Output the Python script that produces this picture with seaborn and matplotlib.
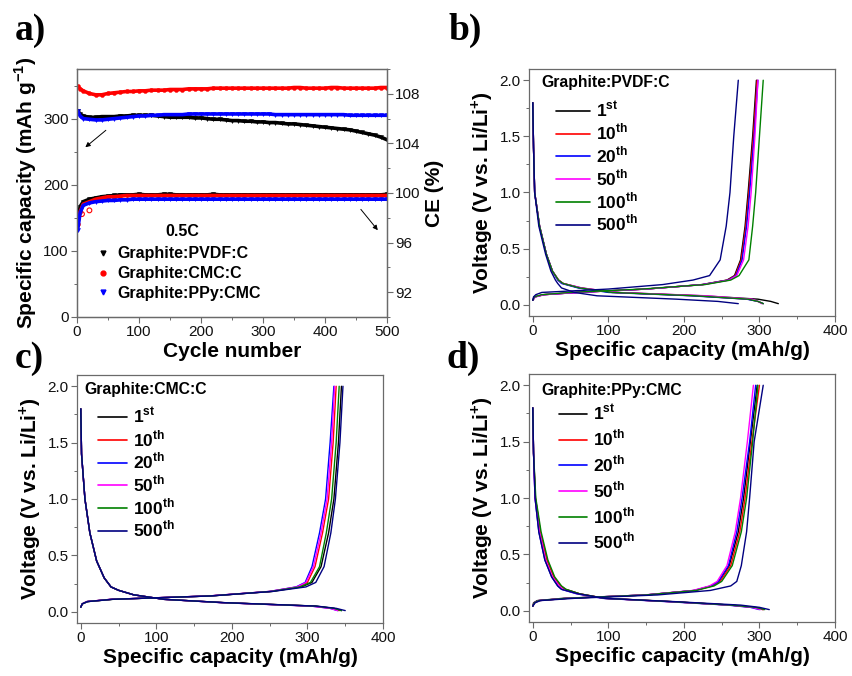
import matplotlib
matplotlib.use("Agg")
import matplotlib.pyplot as plt
from matplotlib.ticker import MultipleLocator, FixedLocator, FormatStrFormatter
from matplotlib.lines import Line2D
import pandas as pd
import seaborn as sns

# ---------------- panel a: cycling at 0.5C ----------------
cycles = [1, 5, 10, 20, 30, 40, 50, 60, 70, 80, 90, 100, 110, 120, 130, 140, 150,
          160, 170, 180, 190, 200, 210, 220, 230, 240, 250, 260, 270, 280, 290, 300,
          310, 320, 330, 340, 350, 360, 370, 380, 390, 400, 410, 420, 430, 440, 450,
          460, 470, 480, 490, 500]

pvdf_cap = [312, 307, 304, 302, 302, 303, 303, 303, 304, 304, 305, 305, 305, 305, 304, 303, 302,
            302, 302, 302, 301, 301, 300, 299, 299, 298, 297, 297, 296, 296, 295, 295,
            294, 294, 293, 292, 292, 291, 290, 289, 288, 287, 286, 285, 284, 283, 281,
            279, 277, 275, 272, 268]
cmc_cap = [349, 345, 342, 338, 336, 336, 338, 339, 340, 341, 341, 342, 342, 343, 343, 343, 344,
           344, 344, 345, 345, 345, 345, 346, 346, 346, 346, 346, 346, 346, 346, 346,
           346, 346, 346, 346, 347, 347, 346, 346, 346, 346, 347, 347, 346, 346, 346,
           346, 346, 346, 347, 347]
ppy_cap = [312, 304, 300, 299, 298, 298, 299, 300, 301, 302, 303, 304, 304, 305, 305, 306, 306,
           306, 306, 307, 307, 307, 307, 307, 307, 307, 307, 307, 307, 307, 307, 307,
           307, 306, 306, 306, 306, 306, 306, 306, 306, 306, 306, 306, 306, 305, 305,
           305, 305, 305, 305, 305]

pvdf_ce = [97.8, 98.9, 99.3, 99.5, 99.6, 99.7, 99.75, 99.8, 99.85, 99.85, 99.85, 99.9, 99.85, 99.85,
           99.85, 99.9, 99.9, 99.85, 99.85, 99.85, 99.85, 99.85, 99.85, 99.9, 99.85, 99.85, 99.85,
           99.85, 99.85, 99.85, 99.85, 99.85, 99.85, 99.85, 99.85, 99.85, 99.85, 99.85, 99.85,
           99.85, 99.85, 99.85, 99.85, 99.85, 99.85, 99.85, 99.85, 99.85, 99.85, 99.85, 99.85, 99.9]
cmc_ce = [97.5, 98.5, 99.1, 99.3, 99.5, 99.6, 99.7, 99.7, 99.75, 99.8, 99.8, 99.8, 99.8, 99.8,
          99.8, 99.8, 99.8, 99.8, 99.8, 99.8, 99.8, 99.8, 99.8, 99.8, 99.8, 99.8, 99.8,
          99.8, 99.8, 99.8, 99.8, 99.8, 99.8, 99.8, 99.8, 99.8, 99.8, 99.8, 99.8,
          99.8, 99.8, 99.8, 99.8, 99.8, 99.8, 99.8, 99.8, 99.8, 99.8, 99.8, 99.8, 99.8]
ppy_ce = [97.0, 98.4, 99.0, 99.2, 99.3, 99.35, 99.4, 99.4, 99.45, 99.45, 99.5, 99.5, 99.5, 99.5,
          99.5, 99.5, 99.5, 99.5, 99.5, 99.5, 99.5, 99.5, 99.5, 99.5, 99.5, 99.5, 99.5,
          99.5, 99.5, 99.5, 99.5, 99.5, 99.5, 99.5, 99.5, 99.5, 99.5, 99.5, 99.5,
          99.5, 99.5, 99.5, 99.5, 99.5, 99.5, 99.5, 99.5, 99.5, 99.5, 99.5, 99.5, 99.5]
# stray CE points of the CMC cell (open circles)
cmc_ce_stray_cycle = [20, 8]
cmc_ce_stray = [98.6, 98.3]

materials = ["Graphite:PVDF:C", "Graphite:CMC:C", "Graphite:PPy:CMC"]
mat_colors = ["#000000", "#ff0000", "#0000ff"]
mat_markers = ["v", "o", "v"]

# ---------------- panels b-d: voltage profiles ----------------
cycle_labels = ["1$^{\\mathbf{st}}$", "10$^{\\mathbf{th}}$", "20$^{\\mathbf{th}}$",
                "50$^{\\mathbf{th}}$", "100$^{\\mathbf{th}}$", "500$^{\\mathbf{th}}$"]
cycle_colors = ["#000000", "#ff0000", "#0000ff", "#ff00ff", "#008000", "#000080"]

dis_volt = [1.8, 1.4, 1.0, 0.7, 0.45, 0.3, 0.22, 0.19, 0.15, 0.11, 0.08, 0.05, 0.03, 0.01]
chg_volt = [0.04, 0.07, 0.09, 0.11, 0.14, 0.18, 0.22, 0.26, 0.4, 0.7, 1.0, 1.5, 2.0]

pvdf_dis = [[0, 1, 2.5, 9, 18, 26, 34, 40, 64, 110, 225, 298, 315, 325],
            [0, 1, 2.5, 9, 18, 26, 34, 40, 62, 105, 215, 285, 298, 305],
            [0, 1, 2.5, 9, 18, 26, 33, 38, 60, 100, 210, 283, 298, 305],
            [0, 1, 2.5, 9, 18, 26, 34, 40, 65, 110, 230, 290, 298, 303],
            [0, 1, 2.5, 9, 18, 26, 34, 40, 62, 105, 215, 285, 298, 305],
            [0, 1, 2.5, 8, 17, 24, 30, 33, 38, 55, 85, 190, 245, 272]]
pvdf_chg = [[0, 2, 14, 58, 150, 224, 257, 267, 275, 281, 285, 291, 296],
            [0, 3, 15, 60, 150, 225, 258, 268, 276, 282, 286, 292, 297],
            [0, 3, 15, 60, 150, 225, 259, 269, 277, 283, 287, 293, 298],
            [0, 3, 15, 60, 150, 226, 260, 270, 279, 285, 289, 294, 298],
            [0, 2, 12, 50, 145, 228, 262, 273, 286, 291, 295, 300, 305],
            [0, 1, 4, 12, 100, 172, 212, 234, 248, 256, 261, 266, 272]]

cmc_dis = [[0, 1, 5.5, 12, 21, 31, 40, 50, 70, 110, 190, 310, 335, 345],
           [0, 1, 5.5, 12, 21, 31, 40, 50, 70, 110, 190, 308, 332, 342],
           [0, 1, 5.5, 12, 21, 31, 40, 50, 70, 110, 188, 305, 330, 340],
           [0, 1, 5.5, 12, 21, 31, 40, 50, 70, 110, 188, 305, 330, 340],
           [0, 1, 5.5, 12, 21, 31, 40, 50, 70, 110, 190, 310, 335, 345],
           [0, 1, 5.5, 12, 21, 31, 40, 50, 70, 110, 192, 312, 338, 350]]
cmc_chg = [[0, 2, 9, 42, 172, 253, 292, 306, 318, 328, 335, 341, 345],
           [0, 2, 8, 40, 170, 251, 287, 300, 310, 320, 328, 334, 338],
           [0, 2, 8, 40, 170, 250, 285, 297, 306, 316, 324, 330, 335],
           [0, 2, 8, 40, 170, 250, 286, 298, 308, 318, 326, 332, 336],
           [0, 2, 9, 42, 172, 252, 290, 304, 316, 325, 332, 338, 342],
           [0, 2, 9, 42, 172, 254, 298, 311, 322, 331, 337, 343, 347]]

ppy_dis = [[0, 1, 3.5, 10, 19, 28, 37, 43, 62, 95, 185, 262, 292, 305],
           [0, 1, 3.5, 10, 19, 28, 37, 43, 62, 95, 185, 262, 292, 305],
           [0, 1, 3, 8, 16, 25, 33, 38, 58, 92, 180, 258, 288, 300],
           [0, 1, 3, 9, 17, 26, 35, 40, 60, 94, 182, 260, 290, 302],
           [0, 1, 4, 11, 20, 29, 38, 44, 62, 95, 185, 262, 295, 307],
           [0, 1, 3, 8, 16, 25, 33, 38, 60, 95, 190, 275, 300, 313]]
ppy_chg = [[0, 1, 6, 40, 150, 214, 236, 246, 260, 272, 279, 288, 297],
           [0, 2, 8, 45, 150, 215, 238, 248, 262, 274, 281, 290, 300],
           [0, 2, 8, 45, 150, 214, 236, 246, 259, 270, 277, 287, 295],
           [0, 2, 8, 45, 148, 212, 234, 244, 257, 268, 275, 284, 292],
           [0, 2, 8, 45, 150, 216, 240, 250, 264, 276, 283, 291, 298],
           [0, 3, 10, 55, 165, 235, 262, 270, 276, 283, 287, 293, 305]]

W, H = 852, 676
spine_col = "#6a6a6a"

sns.set_style("ticks")
plt.rcParams["font.family"] = ["Liberation Sans", "DejaVu Sans"]
plt.rcParams["mathtext.fontset"] = "custom"
plt.rcParams["mathtext.rm"] = "Liberation Sans"
plt.rcParams["mathtext.bf"] = "Liberation Sans:bold"
plt.rcParams["text.color"] = "black"
plt.rcParams["axes.labelcolor"] = "black"
plt.rcParams["xtick.color"] = spine_col
plt.rcParams["ytick.color"] = spine_col
plt.rcParams["xtick.labelcolor"] = "#111111"
plt.rcParams["ytick.labelcolor"] = "#111111"

fig = plt.figure(figsize=(W / 100, H / 100), dpi=100)


def box(left, top, right, bottom):
    return [left / W, 1 - bottom / H, (right - left) / W, (bottom - top) / H]


def style_axis(ax):
    for s in ax.spines.values():
        s.set_color(spine_col)
        s.set_linewidth(0.9)
    ax.tick_params(which="major", direction="out", length=4, width=0.8, labelsize=11, pad=2)
    ax.tick_params(which="minor", direction="out", length=2.5, width=0.7)


# ---- panel a ----
ax_a = fig.add_axes(box(77, 69, 387, 317))
ax_ce = ax_a.twinx()
cap_series = [pvdf_cap, cmc_cap, ppy_cap]
ce_series = [pvdf_ce, cmc_ce, ppy_ce]
for name, col, mk, cap, ce in zip(materials, mat_colors, mat_markers, cap_series, ce_series):
    df = pd.DataFrame({"cycle": cycles, "capacity": cap, "ce": ce})
    sns.lineplot(data=df, x="cycle", y="capacity", color=col, lw=2.6, ax=ax_a, legend=False)
    sns.scatterplot(data=df, x="cycle", y="capacity", color=col, marker=mk, s=9,
                    edgecolor=col, ax=ax_a, legend=False)
    sns.lineplot(data=df, x="cycle", y="ce", color=col, lw=2.6, ax=ax_ce, legend=False)
    sns.scatterplot(data=df, x="cycle", y="ce", color=col, marker=mk, s=9,
                    edgecolor=col, ax=ax_ce, legend=False)
sns.scatterplot(x=cmc_ce_stray_cycle, y=cmc_ce_stray, marker="o", s=12, facecolor="none",
                edgecolor="#ff0000", linewidth=0.8, ax=ax_ce, legend=False)

ax_a.set_xlim(0, 500)
ax_a.set_ylim(0, 375)
ax_a.yaxis.set_major_locator(FixedLocator([0, 100, 200, 300]))
ax_a.yaxis.set_minor_locator(MultipleLocator(50))
ax_a.xaxis.set_major_locator(MultipleLocator(100))
ax_a.xaxis.set_minor_locator(MultipleLocator(50))
ax_ce.set_ylim(90, 110)
ax_ce.yaxis.set_major_locator(FixedLocator([92, 96, 100, 104, 108]))
ax_ce.yaxis.set_minor_locator(MultipleLocator(2))
style_axis(ax_a)
style_axis(ax_ce)
ax_a.set_xlabel("Cycle number", fontsize=15, fontweight="bold", labelpad=2)
ax_a.set_ylabel("Specific capacity (mAh g$^{\\mathbf{-1}}$)", fontsize=15, fontweight="bold", labelpad=3)
ax_ce.set_ylabel("CE (%)", fontsize=15, fontweight="bold", labelpad=3)

handles = [Line2D([], [], ls="none", marker=m, color=c, markersize=3.5) for m, c in zip(mat_markers, mat_colors)]
ax_a.legend(handles, materials, loc="upper left", bbox_to_anchor=(0.058, 0.285), frameon=False,
            prop=dict(weight="bold", size=11.5), handlelength=1.0, handletextpad=0.4,
            labelspacing=0.3, borderpad=0, borderaxespad=0)
ax_a.text(0.339, 0.344, "0.5C", transform=ax_a.transAxes, ha="center", va="center",
          fontsize=11.5, fontweight="bold")
ax_a.annotate("", xy=(10, 254), xytext=(50, 285),
              arrowprops=dict(arrowstyle="-|>", color="black", lw=0.7, mutation_scale=7))
ax_a.annotate("", xy=(488, 128), xytext=(455, 166),
              arrowprops=dict(arrowstyle="-|>", color="black", lw=0.7, mutation_scale=7))


# ---- panels b-d ----
def draw_profiles(ax, dis, chg, title, leg_x, leg_y, spacing, hlen):
    rows = []
    for i, lab in enumerate(cycle_labels):
        for c, v in zip(dis[i], dis_volt):
            rows.append((lab, "dis", c, v))
        for c, v in zip(chg[i], chg_volt):
            rows.append((lab, "chg", c, v))
    df = pd.DataFrame(rows, columns=["cycle", "branch", "capacity", "voltage"])
    sns.lineplot(data=df, x="capacity", y="voltage", hue="cycle", units="branch",
                 estimator=None, sort=False, palette=cycle_colors, lw=1.0, ax=ax, legend=False)
    ax.set_xlim(-5, 400)
    ax.set_ylim(-0.1, 2.1)
    ax.xaxis.set_major_locator(MultipleLocator(100))
    ax.xaxis.set_minor_locator(MultipleLocator(50))
    ax.yaxis.set_major_locator(FixedLocator([0.0, 0.5, 1.0, 1.5, 2.0]))
    ax.yaxis.set_minor_locator(MultipleLocator(0.25))
    ax.yaxis.set_major_formatter(FormatStrFormatter("%.1f"))
    style_axis(ax)
    ax.set_xlabel("Specific capacity (mAh/g)", fontsize=15, fontweight="bold", labelpad=2)
    ax.set_ylabel("Voltage (V vs. Li/Li$^{\\mathbf{+}}$)", fontsize=15, fontweight="bold", labelpad=3)
    ax.text(leg_x[0], leg_y[0], title, transform=ax.transAxes, ha="left", va="center",
            fontsize=11.3, fontweight="bold")
    hs = [Line2D([], [], color=c, lw=1.2) for c in cycle_colors]
    ax.legend(hs, cycle_labels, loc="upper left", bbox_to_anchor=(leg_x[1], leg_y[1]),
              frameon=False, prop=dict(weight="bold", size=12.5), handlelength=hlen,
              handletextpad=0.35, labelspacing=spacing, borderpad=0, borderaxespad=0)


ax_b = fig.add_axes(box(529, 69, 835, 316))
draw_profiles(ax_b, pvdf_dis, pvdf_chg, "Graphite:PVDF:C", (0.0415, 0.088), (0.944, 0.875), 0.12, 1.95)
ax_c = fig.add_axes(box(77, 375, 383, 623))
draw_profiles(ax_c, cmc_dis, cmc_chg, "Graphite:CMC:C", (0.023, 0.07), (0.94, 0.875), 0.12, 1.65)
ax_d = fig.add_axes(box(529, 374, 835, 622))
draw_profiles(ax_d, ppy_dis, ppy_chg, "Graphite:PPy:CMC", (0.0415, 0.098), (0.935, 0.885), 0.3, 1.6)

# panel letters
for lab, x, y in [("a)", 15, 31), ("b)", 448, 30), ("c)", 15, 358), ("d)", 447, 358)]:
    fig.text(x / W, 1 - y / H, lab, ha="left", va="center", fontsize=27,
             fontweight="bold", family="Liberation Serif")

fig.savefig("out.png", dpi=100)
